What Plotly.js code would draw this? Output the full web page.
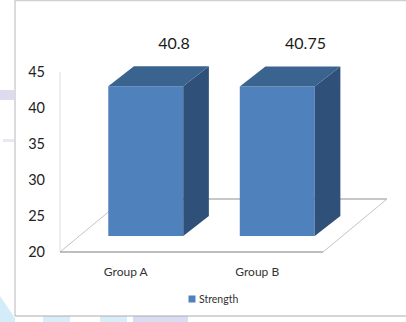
<!DOCTYPE html>
<html>
<head>
<meta charset="utf-8">
<script src="https://cdn.plot.ly/plotly-3.0.1.min.js"></script>
<style>html,body{margin:0;padding:0;background:#fff}#chart{width:406px;height:322px}</style>
</head>
<body>
<div id="chart"></div>
<script>
// Compressive strength per group
const categories = ["Group A", "Group B"];
const strength = [40.8, 40.75];
const seriesName = "Strength";
const yTicks = [20, 25, 30, 35, 40, 45];

// Canvas size and plot frame, in pixels
const W = 406, H = 322;
const frame = {left: 60, right: 323, top: 72, bottom: 252};
const slotPx = (frame.right - frame.left) / categories.length;
const pad = {left: 10, right: 395, below: 8};   // drawing room around the frame
// The bars stand on a plane set back into the floor
const bar = {shiftX: 20, shiftY: 16, width: 0.57, depthX: 0.195, depthY: 2.78};
const floorDepth = {x: 0.487, y: 7.36};

const unitsPerPx = (45 - 20) / (frame.bottom - frame.top);
const barBottomPx = frame.bottom - bar.shiftY;
const barAxisTop = 20 + barBottomPx * unitsPerPx;
const axisBottomValue = 20 - pad.below * unitsPerPx;
const xRange = [-0.5 - pad.left / slotPx, -0.5 + (pad.right - frame.left) / slotPx];
const barLeftPx = frame.left + bar.shiftX;
const barXRange = [-0.5, -0.5 + (pad.right - barLeftPx) / slotPx];

const front = "#4f81bd", topFace = "#3b6390", sideFace = "#2f5078";
const fontStack = "Lato, 'Open Sans', sans-serif";
const idx = categories.map((_, i) => i);

const traces = [];
const edge = (x, y, color, width) => traces.push({
  type: "scatter", mode: "lines", xaxis: "x", yaxis: "y", showlegend: false, hoverinfo: "skip",
  x, y, line: {color, width}
});

// Back wall edge and floor of the chart, on the main axes
edge([-0.5, -0.5], [20, 45], "#dcdcdc", 1);
edge([-0.5 + floorDepth.x, 1.5 + floorDepth.x], [20 + floorDepth.y, 20 + floorDepth.y], "#b4b4b4", 1.5);
edge([-0.5, -0.5 + floorDepth.x], [20, 20 + floorDepth.y], "#c4c4c4", 1);
edge([1.5, 1.5 + floorDepth.x], [20, 20 + floorDepth.y], "#c4c4c4", 1);
edge([-0.5, 1.5], [20, 20], "#a8a8a8", 1.5);

// Side and top faces of each bar, derived from its value
idx.forEach(i => {
  const l = i - bar.width / 2, r = i + bar.width / 2, v = strength[i];
  traces.push({
    type: "scatter", mode: "lines", xaxis: "x2", yaxis: "y2", showlegend: false, hoverinfo: "skip",
    x: [r, r + bar.depthX, r + bar.depthX, r, r],
    y: [20, 20 + bar.depthY, v + bar.depthY, v, 20],
    fill: "toself", fillcolor: sideFace, line: {width: 0, color: sideFace}
  });
  traces.push({
    type: "scatter", mode: "lines", xaxis: "x2", yaxis: "y2", showlegend: false, hoverinfo: "skip",
    x: [l, l + bar.depthX, r + bar.depthX, r, l],
    y: [v, v + bar.depthY, v + bar.depthY, v, v],
    fill: "toself", fillcolor: topFace, line: {width: 0, color: topFace}
  });
});

// Front faces
traces.push({
  type: "bar", name: seriesName, xaxis: "x2", yaxis: "y2",
  x: idx, y: strength, width: bar.width,
  marker: {color: front, line: {width: 0}}, hoverinfo: "y"
});

// Value labels above the bars
traces.push({
  type: "scatter", mode: "text", xaxis: "x2", yaxis: "y2", showlegend: false, hoverinfo: "skip",
  x: idx.map(i => i + 0.215), y: strength.map(v => v + 4.6),
  text: strength.map(String), textposition: "top center",
  textfont: {family: fontStack, size: 16, color: "#1a1a1a"}, cliponaxis: false
});

const layout = {
  width: W, height: H,
  margin: {l: 0, r: 0, t: 0, b: 0},
  paper_bgcolor: "#fff", plot_bgcolor: "rgba(0,0,0,0)",
  showlegend: true,
  legend: {
    x: 172 / W, y: 1 - 299 / H, xanchor: "left", yanchor: "middle",
    font: {family: fontStack, size: 10.5, color: "#333"},
    bgcolor: "rgba(0,0,0,0)", itemwidth: 30
  },
  xaxis: {
    domain: [(frame.left - pad.left) / W, pad.right / W], range: xRange,
    tickmode: "array", tickvals: idx, ticktext: categories,
    tickfont: {family: fontStack, size: 12, color: "#333"},
    showgrid: false, zeroline: false, showline: false, ticks: "", anchor: "y", ticklabelstandoff: 3
  },
  yaxis: {
    domain: [1 - (frame.bottom + pad.below) / H, 1 - frame.top / H], range: [axisBottomValue, 45],
    tickmode: "array", tickvals: yTicks,
    tickfont: {family: fontStack, size: 14.5, color: "#222"},
    showgrid: false, zeroline: false, showline: false,
    ticks: "", anchor: "x", ticklabelstandoff: 4
  },
  xaxis2: {
    domain: [barLeftPx / W, pad.right / W],
    range: barXRange, visible: false, anchor: "y2"
  },
  yaxis2: {
    domain: [1 - barBottomPx / H, 1], range: [20, barAxisTop],
    visible: false, anchor: "x2"
  },
  // Chart frame and the pale page artwork around it
  shapes: [
    {type: "path", xref: "paper", yref: "paper", layer: "below", line: {width: 0}, fillcolor: "#d4ebf9",
      path: `M0,${1 - 296 / H} L${15 / W},${1 - 318 / H} L${15 / W},0 L0,0 Z`},
    {type: "rect", xref: "paper", yref: "paper", layer: "below", line: {width: 0}, fillcolor: "#dddcee",
      x0: 0, x1: 14 / W, y0: 1 - 100 / H, y1: 1 - 90 / H},
    {type: "rect", xref: "paper", yref: "paper", layer: "below", line: {width: 0}, fillcolor: "#e6e8f2",
      x0: 3 / W, x1: 14 / W, y0: 1 - 142 / H, y1: 1 - 139 / H},
    {type: "rect", xref: "paper", yref: "paper", layer: "below", line: {width: 0}, fillcolor: "#d8ecf9",
      x0: 43 / W, x1: 70 / W, y0: 0, y1: 1 - 316 / H},
    {type: "rect", xref: "paper", yref: "paper", layer: "below", line: {width: 0}, fillcolor: "#d8ecf9",
      x0: 100 / W, x1: 127 / W, y0: 0, y1: 1 - 316 / H},
    {type: "rect", xref: "paper", yref: "paper", layer: "below", line: {width: 0}, fillcolor: "#dadcf4",
      x0: 133 / W, x1: 188 / W, y0: 0, y1: 1 - 316 / H},
    {type: "line", xref: "paper", yref: "paper", layer: "below", line: {color: "#cfcfcf", width: 1.5},
      x0: 15 / W, x1: 15 / W, y0: 1 - 316 / H, y1: 1},
    {type: "line", xref: "paper", yref: "paper", layer: "below", line: {color: "#d0d0d0", width: 1.5},
      x0: 15 / W, x1: 1, y0: 1 - 0.5 / H, y1: 1 - 0.5 / H},
    {type: "line", xref: "paper", yref: "paper", layer: "below", line: {color: "#ababab", width: 1},
      x0: 15 / W, x1: 1, y0: 1 - 316 / H, y1: 1 - 316 / H}
  ]
};

Plotly.newPlot("chart", traces, layout, {displayModeBar: false, staticPlot: true}).then(gd => {
  // Tighten the legend entry: small swatch with the label close beside it
  const swatch = gd.querySelector(".legend .legendbar path, .legend .legendpoints path");
  if (swatch) swatch.setAttribute("d", "M3.5,3.5H-3.5V-3.5H3.5Z");
  const label = gd.querySelector(".legend .legendtext");
  if (label) label.setAttribute("x", 27);
});
</script>
</body>
</html>
